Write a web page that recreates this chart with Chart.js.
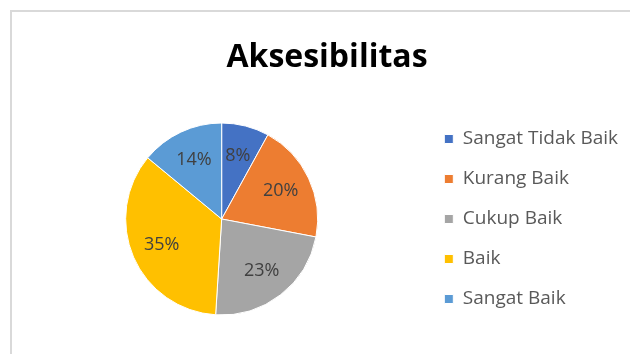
<!DOCTYPE html>
<html lang="id">
<head>
  <meta charset="UTF-8">
  <title>Aksesibilitas</title>
  <script src="https://cdn.jsdelivr.net/npm/chart.js"></script>
  <style>
    body {
      margin: 0;
      background: #fff;
      overflow: hidden;
    }
    .frame {
      position: absolute;
      left: 10px;
      top: 10px;
      width: 640px;
      height: 360px;
      border-top: 2px solid #d9d9d9;
      border-left: 2px solid #d9d9d9;
    }
    canvas {
      position: absolute;
      left: 0;
      top: 0;
    }
  </style>
</head>
<body>
  <div class="frame">
    <canvas id="pieChart" width="630" height="342"></canvas>
  </div>
  <script>
    // chart data
    const chartTitle = 'Aksesibilitas';
    const categories = ['Sangat Tidak Baik', 'Kurang Baik', 'Cukup Baik', 'Baik', 'Sangat Baik'];
    const percentages = [8, 20, 23, 35, 14];
    const sliceColors = ['#4472C4', '#ED7D31', '#A5A5A5', '#FFC000', '#5B9BD5'];

    // title drawn at the middle of the whole frame (legend shifts the chart area)
    const titlePlugin = {
      id: 'frameTitle',
      afterDraw(chart) {
        const ctx = chart.ctx;
        ctx.save();
        ctx.font = 'bold 32px "Open Sans", sans-serif';
        ctx.fillStyle = '#000';
        ctx.textAlign = 'center';
        ctx.textBaseline = 'alphabetic';
        ctx.fillText(chartTitle, 315, 55);
        ctx.restore();
      }
    };

    // percentage labels inside each slice
    const sliceLabels = {
      id: 'sliceLabels',
      afterDatasetsDraw(chart) {
        const ctx = chart.ctx;
        const meta = chart.getDatasetMeta(0);
        ctx.save();
        ctx.font = '18px "Open Sans", sans-serif';
        ctx.fillStyle = '#404040';
        ctx.textAlign = 'center';
        ctx.textBaseline = 'middle';
        meta.data.forEach((arc, i) => {
          const p = arc.getProps(['x', 'y', 'startAngle', 'endAngle', 'outerRadius']);
          const mid = (p.startAngle + p.endAngle) / 2;
          const r = p.outerRadius * 0.68;
          ctx.fillText(percentages[i] + '%', p.x + Math.cos(mid) * r, p.y + Math.sin(mid) * r);
        });
        ctx.restore();
      }
    };

    const ctx = document.getElementById('pieChart').getContext('2d');
    new Chart(ctx, {
      type: 'pie',
      data: {
        labels: categories,
        datasets: [{
          data: percentages,
          backgroundColor: sliceColors,
          borderColor: '#ffffff',
          borderWidth: 1
        }]
      },
      options: {
        responsive: false,
        animation: false,
        radius: 96,
        layout: {
          padding: { left: 8, right: 14, top: 72, bottom: 0 }
        },
        plugins: {
          title: { display: false },
          tooltip: { enabled: false },
          legend: {
            position: 'right',
            align: 'center',
            labels: {
              boxWidth: 9,
              boxHeight: 9,
              padding: 21,
              color: '#595959',
              font: { family: '"Open Sans", sans-serif', size: 19 }
            }
          }
        }
      },
      plugins: [titlePlugin, sliceLabels]
    });
  </script>
</body>
</html>
